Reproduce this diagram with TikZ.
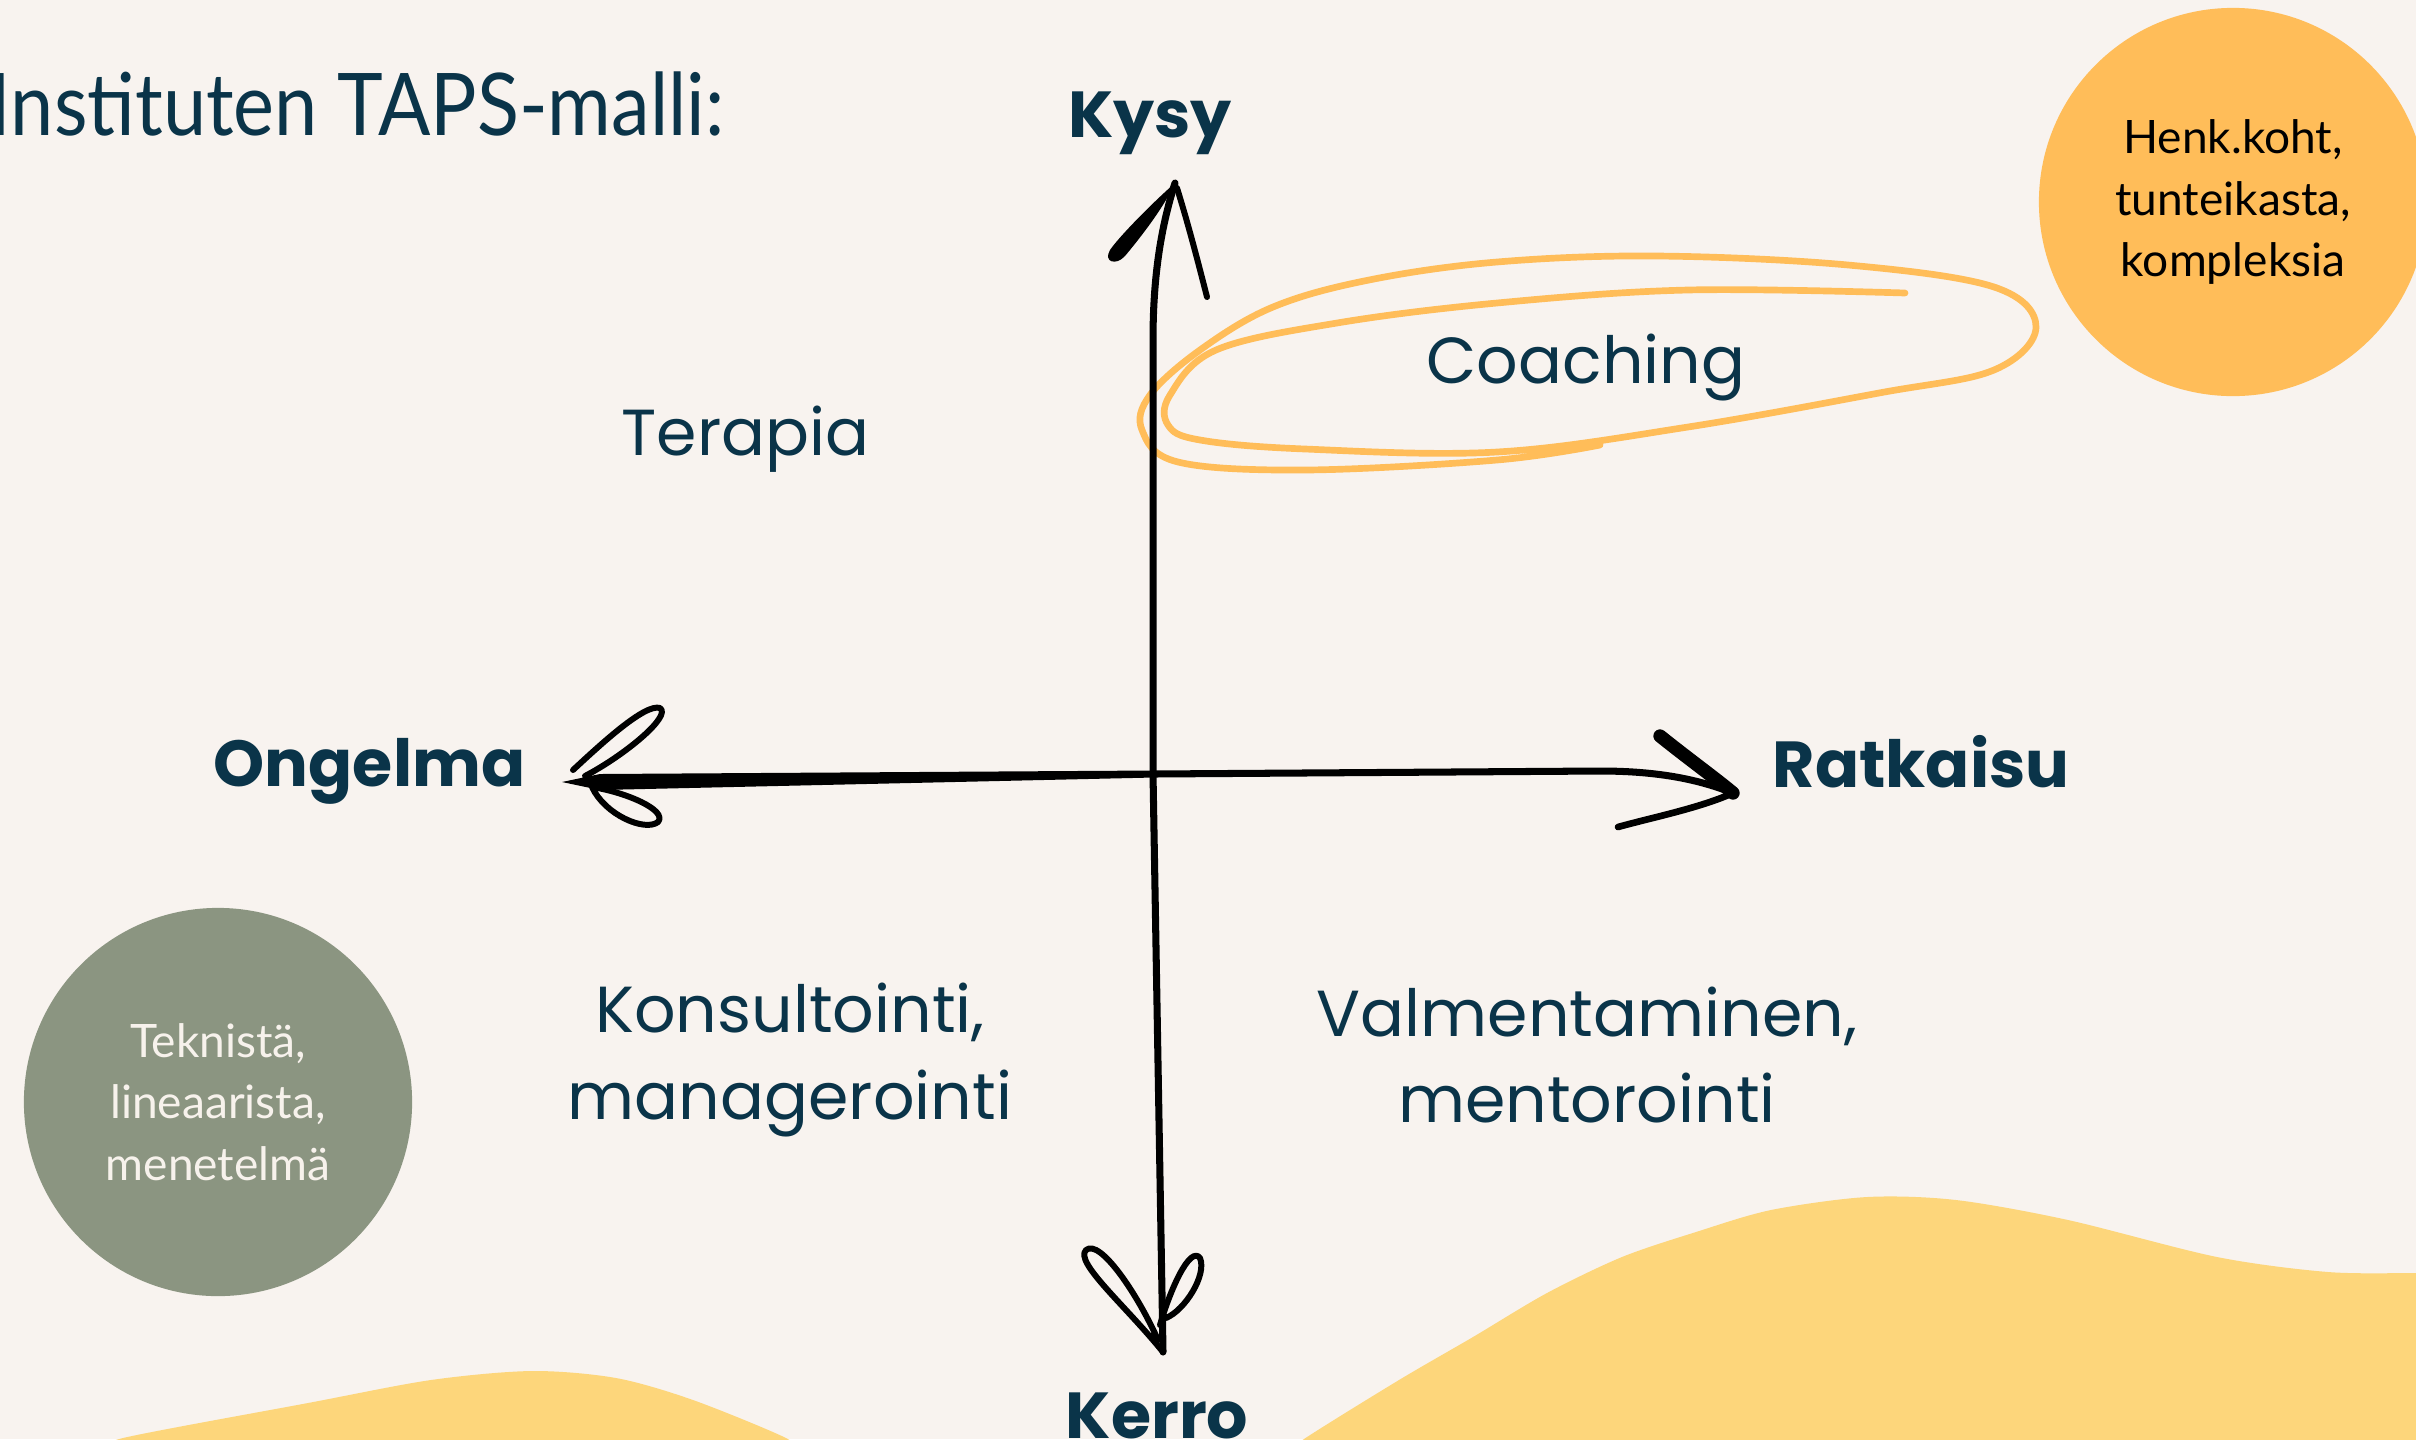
\documentclass[tikz,border=0pt]{standalone}
\usepackage{fontspec}
\setmainfont{Poppins}
\newfontfamily\latofont{Lato}
\usetikzlibrary{positioning}
\definecolor{cbg}{HTML}{F8F3EF}
\definecolor{cnavy}{HTML}{0A3449}
\definecolor{corange}{HTML}{FFBD59}
\definecolor{cyellow}{HTML}{FDD67B}
\definecolor{cgreen}{HTML}{8B9581}
\definecolor{ccream}{HTML}{F7F2EC}
\tikzset{
  axisname/.style={font=\bfseries\fontsize{18.5}{24.5}\selectfont, text=cnavy, inner sep=0pt},
  quadname/.style={font=\fontsize{18.5}{24.5}\selectfont, text=cnavy, align=center, inner sep=0pt},
  bubble/.style={circle, fill=#1, minimum size=3.88cm, inner sep=0pt, align=center, font=\latofont\fontsize{13.1}{17.5}\selectfont},
  pen/.style={draw=black, line width=2pt, line cap=round, line join=round},
  scribble/.style={draw=corange, line width=1.9pt, line cap=round, line join=round},
}

\begin{document}
\begin{tikzpicture}[x=0.01cm, y=-0.01cm]
  \fill[cbg] (0,0) rectangle (2416,1439);
  \useasboundingbox (0,0) rectangle (2416,1439);
  \fill[cyellow] plot[smooth] coordinates {(1295,1450) (1304,1439) (1399,1380) (1473,1337) (1547,1293) (1622,1257) (1696,1232) (1771,1210) (1867,1197) (1956,1200) (2068,1220) (2217,1257) (2328,1272) (2416,1273) (2430,1273)} -- (2430,1450) -- cycle;
  \fill[cyellow] plot[smooth] coordinates {(110,1450) (123,1438) (308,1403) (431,1380) (532,1371) (616,1378) (693,1400) (786,1438) (792,1450)} -- cycle;

  \node[anchor=base west, inner sep=0pt, text=cnavy, font=\latofont\fontsize{24.6}{30}\selectfont] (title) at (-11,135) {\scalebox{0.895}[1]{Instituten TAPS-malli:}};
  \node[bubble=corange, text=black] (henk) at (2233,202) {Henk.koht,\\tunteikasta,\\kompleksia};
  \node[bubble=cgreen, text=ccream] (teknista) at (218,1102) {Teknistä,\\lineaarista,\\menetelmä};

  \node[axisname, anchor=base] (kysy) at (1150,137) {Kysy};
  \node[axisname, anchor=base] (kerro) at (1157,1438) {Kerro};
  \node[axisname, anchor=base east] (ongelma) at (526,786) {Ongelma};
  \node[axisname, anchor=base west] (ratkaisu) at (1772,787) {Ratkaisu};

  \node[quadname, anchor=base west] (terapia) at (621,455) {Terapia};
  \node[quadname, anchor=base] (coaching) at (1586,383) {Coaching};
  \node[quadname] (konsult) at (790,1060) {Konsultointi,\\managerointi};
  \node[quadname] (valment) at (1587,1055) {Valmentaminen,\\mentorointi};

  \draw[scribble] plot[smooth, tension=0.6] coordinates {(1905,293) (1688,290) (1497,303) (1337,323) (1216,350) (1170,395) (1168,425) (1200,440) (1305,449) (1497,452) (1688,427) (1879,393) (1994,370) (2036,327) (1994,287) (1848,265) (1656,256) (1497,262) (1369,280) (1273,307) (1200,350) (1150,395) (1142,430) (1178,462) (1305,470) (1497,460) (1600,445)};

  \coordinate (ntip) at (1175,183);
  \coordinate (stip) at (1163,1352);
  \coordinate (wtip) at (562,782);
  \coordinate (etip) at (1733,793);
  \coordinate (cross) at (1153,774);

  \draw[pen] (ntip) .. controls (1160,230) and (1153,280) .. (1153,340) -- (cross) -- (stip);
  \fill (ntip) .. controls (1150,205) and (1118,238) .. (1110,250) .. controls (1103,262) and (1116,266) .. (1125,256) .. controls (1145,232) and (1165,205) .. (ntip) -- cycle;
  \draw[pen, line width=1.7pt] (1177,188) .. controls (1190,230) and (1200,270) .. (1207,297);
  \draw[pen, line width=1.7pt] (stip) .. controls (1125,1305) and (1074,1262) .. (1086,1250) .. controls (1100,1238) and (1138,1295) .. (1158,1340);
  \draw[pen, line width=1.7pt] (1160,1325) .. controls (1170,1290) and (1190,1245) .. (1200,1258) .. controls (1207,1275) and (1185,1310) .. (1166,1318);

  \fill (wtip) -- (600,774) -- (1154,770.5) -- (1154,777.5) -- (600,790) -- cycle;
  \draw[pen] (cross) -- (1600,771) .. controls (1660,771) and (1700,780) .. (etip);
  \draw[pen, line width=1.7pt] (573,770) .. controls (600,745) and (645,703) .. (660,708) .. controls (672,716) and (625,755) .. (585,776);
  \draw[pen, line width=1.7pt] (592,787) .. controls (605,815) and (645,832) .. (658,822) .. controls (668,810) and (625,792) .. (592,787);
  \draw[pen, line width=3.8pt] (1660,736) .. controls (1690,760) and (1715,778) .. (etip);
  \draw[pen, line width=1.9pt] (etip) .. controls (1700,808) and (1650,818) .. (1618,827);
\end{tikzpicture}
\end{document}
